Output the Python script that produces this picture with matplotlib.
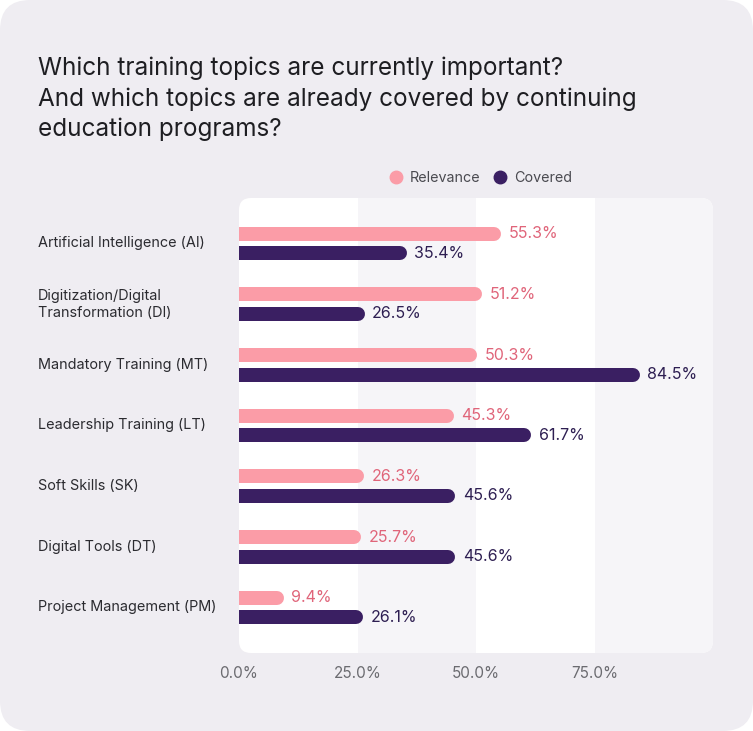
import matplotlib
matplotlib.use("Agg")
import matplotlib.pyplot as plt
from matplotlib.patches import FancyBboxPatch
from matplotlib.lines import Line2D

plt.rcParams['font.family'] = ['Inter', 'DejaVu Sans']

topics = [
    "Artificial Intelligence (AI)",
    "Digitization/Digital\nTransformation (DI)",
    "Mandatory Training (MT)",
    "Leadership Training (LT)",
    "Soft Skills (SK)",
    "Digital Tools (DT)",
    "Project Management (PM)",
]
relevance = [55.3, 51.2, 50.3, 45.3, 26.3, 25.7, 9.4]
covered = [35.4, 26.5, 84.5, 61.7, 45.6, 45.6, 26.1]
ticks = [0, 25, 50, 75]

pink = "#fb9ca7"
pink_text = "#e0657a"
purple = "#3a1f62"
purple_text = "#2e1f52"
card = "#efedf2"
band = "#f6f5f8"

W, H, DPI = 753, 731, 100
fig = plt.figure(figsize=(W / DPI, H / DPI), dpi=DPI)
fig.patch.set_facecolor("white")

# rounded card background
fig.patches.append(FancyBboxPatch((0, 0), 1, 1, boxstyle="round,pad=0,rounding_size=0.04",
                                  transform=fig.transFigure, facecolor=card, edgecolor="none",
                                  mutation_aspect=W / H, zorder=-10))

fig.text(38 / W, 1 - 57 / H,
         "Which training topics are currently important?\n"
         "And which topics are already covered by continuing\n"
         "education programs?",
         ha="left", va="top", fontsize=17.5, color="#1e1e22", linespacing=1.36)

ax_l, ax_r, ax_t, ax_b = 239, 713, 198, 653
ax_box = [ax_l / W, 1 - ax_b / H, (ax_r - ax_l) / W, (ax_b - ax_t) / H]
ax = fig.add_axes(ax_box)
ax.set_facecolor("none")
for s in ax.spines.values():
    s.set_visible(False)
ax.set_xlim(0, 100)
ax.set_ylim(len(topics) - 0.25, -0.75)

# plot area with rounded corners
bg = FancyBboxPatch((ax_box[0], ax_box[1]), ax_box[2], ax_box[3],
                    boxstyle="round,pad=0,rounding_size=0.016",
                    transform=fig.transFigure, facecolor="white", edgecolor="none",
                    mutation_aspect=W / H, zorder=-5)
fig.patches.append(bg)
for a, b in [(25, 50), (75, 100)]:
    sp = ax.axvspan(a, b, color=band, zorder=0.5, lw=0)
    sp.set_clip_path(bg)

# bars as thick round-capped lines
bar_px = 14
lw = bar_px * 72 / DPI
px_per_unit = (ax_r - ax_l) / 100
cap = (bar_px / 2) / px_per_unit
off = 0.16
for i, (r, c) in enumerate(zip(relevance, covered)):
    for v, y, col, tcol in [(r, i - off, pink, pink_text), (c, i + off, purple, purple_text)]:
        ax.plot([0, v - cap], [y, y], color=col, lw=lw, solid_capstyle="round", zorder=3)
        ax.annotate(f"{v:.1f}%", (v, y), xytext=(5.5, 0), textcoords="offset points",
                    ha="left", va="center", fontsize=11.5, color=tcol, zorder=4)

ax.set_yticks([])
label_tr = ax.get_yaxis_transform().__class__(fig.transFigure, ax.transData)
for i, t in enumerate(topics):
    ax.text(38 / W, i, t, transform=label_tr,
            ha="left", va="center", fontsize=10.4, color="#2b2b30", linespacing=1.25)

ax.set_xticks(ticks)
ax.set_xticklabels([f"{t:.1f}%" for t in ticks], fontsize=11, color="#6b6b70")
ax.tick_params(axis="x", length=0, pad=9)

handles = [Line2D([], [], marker="o", ls="none", color=pink, markersize=9),
           Line2D([], [], marker="o", ls="none", color=purple, markersize=9)]
fig.legend(handles, ["Relevance", "Covered"], loc="center", bbox_to_anchor=(477 / W, 1 - 178 / H),
           ncol=2, frameon=False, fontsize=10.3, handletextpad=0.0, columnspacing=0.35,
           labelcolor="#4a4a50")

fig.savefig("out.png", dpi=DPI)
